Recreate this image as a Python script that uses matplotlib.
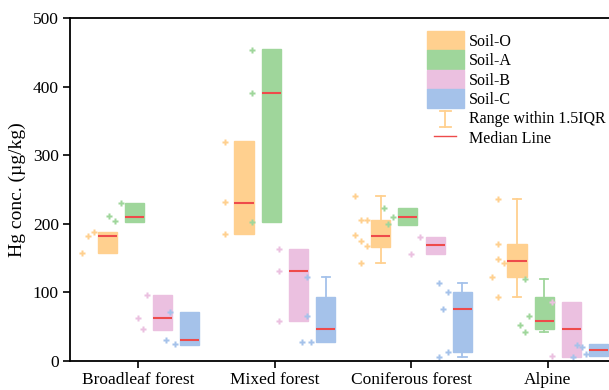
import matplotlib
matplotlib.use('Agg')
import matplotlib.pyplot as plt
import numpy as np
from matplotlib.patches import Patch
from matplotlib.lines import Line2D
from matplotlib.legend_handler import HandlerLine2D, HandlerBase

plt.rcParams['font.family'] = ['Liberation Serif', 'DejaVu Serif']

categories = ['Broadleaf forest', 'Mixed forest', 'Coniferous forest', 'Alpine']
soils = ['Soil-O', 'Soil-A', 'Soil-B', 'Soil-C']
colors = ['#FFD08F', '#9FD69B', '#EBC0E0', '#A5C2EA']
median_color = '#EE4B4B'

# sample points (ug/kg), one list per forest type
soil_o_pts = [[157, 182, 188], [185, 232, 319],
              [241, 205, 205, 183, 175, 167, 143], [123, 149, 143, 236, 171, 94]]
soil_a_pts = [[211, 204, 231], [203, 391, 454], [223, 210, 199], [120, 53, 65, 43]]
soil_b_pts = [[63, 46, 96], [59, 131, 163], [156, 181], [86, 7]]
soil_c_pts = [[30, 72, 25], [27, 65, 27, 122], [113, 101, 76, 6, 13], [6, 24, 21, 10]]
points = [soil_o_pts, soil_a_pts, soil_b_pts, soil_c_pts]

# box statistics, rows = soil layer, columns = forest type
box_q1 = [[158, 185, 166, 122], [203, 203, 198, 47], [45, 59, 156, 6], [24, 27, 13, 7]]
box_med = [[182, 231, 182, 146], [210, 391, 210, 59], [63, 131, 169, 46], [30, 47, 76, 16]]
box_q3 = [[188, 320, 205, 170], [231, 455, 223, 93], [96, 163, 181, 86], [72, 94, 101, 25]]
whis_lo = [[158, 185, 143, 94], [203, 203, 198, 43], [45, 59, 156, 6], [24, 27, 6, 7]]
whis_hi = [[188, 320, 241, 236], [231, 455, 223, 120], [96, 163, 181, 86], [72, 122, 113, 25]]


class ShortLine(HandlerLine2D):
    def get_xdata(self, legend, xdescent, ydescent, width, height, fontsize):
        c = width / 2 - xdescent
        return np.array([c - width * 0.3, c + width * 0.3]), np.array([c])


class RangeBar(HandlerBase):
    # I-shaped whisker symbol for the legend
    def create_artists(self, legend, orig_handle, xdescent, ydescent,
                       width, height, fontsize, trans):
        cx = width / 2 - xdescent
        y0 = -ydescent + 0.5
        y1 = height - ydescent - 1.5
        hw = 0.14 * width
        kw = dict(color=orig_handle.get_color(), lw=orig_handle.get_linewidth(),
                  transform=trans)
        return [Line2D([cx, cx], [y0, y1], **kw),
                Line2D([cx - hw, cx + hw], [y0, y0], **kw),
                Line2D([cx - hw, cx + hw], [y1, y1], **kw)]


fig = plt.figure(figsize=(6.09, 3.9), dpi=100)
ax = fig.add_axes([70 / 609, 1 - 361 / 390, (616 - 70) / 609, (361 - 18) / 390])

xc = np.arange(1, len(categories) + 1)
for j, c in enumerate(colors):
    pos = xc + (j - 1.5) * 0.2 + 0.075
    stats = [dict(q1=box_q1[j][i], med=box_med[j][i], q3=box_q3[j][i],
                  whislo=whis_lo[j][i], whishi=whis_hi[j][i], fliers=[])
             for i in range(len(categories))]
    bp = ax.bxp(stats, positions=pos, widths=0.14, capwidths=0.06, patch_artist=True,
                showfliers=False, manage_ticks=False,
                boxprops=dict(facecolor=c, edgecolor=c, lw=1),
                whiskerprops=dict(color=c, lw=1.3),
                capprops=dict(color=c, lw=1.3),
                medianprops=dict(color=median_color, lw=1.5))
    # no whisker drawn when it ends at the box edge
    for i, st in enumerate(stats):
        if st['whislo'] >= st['q1']:
            bp['caps'][2 * i].set_visible(False)
        if st['whishi'] <= st['q3']:
            bp['caps'][2 * i + 1].set_visible(False)
    # data points to the left of each box, spread out when they share a 50-unit bin
    for i, vals in enumerate(points[j]):
        vals = np.array(vals, dtype=float)
        bins = vals // 50
        xs = np.empty(len(vals))
        for b in np.unique(bins):
            idx = np.where(bins == b)[0]
            k = len(idx)
            xs[idx] = pos[i] - 0.142 + ((np.arange(k) + 0.5) / k - 0.5) * 0.132
        ax.plot(xs, vals, ls='none', marker='P', ms=4.6, color=c, mec='none')

ax.set_xlim(0.5, 4.5)
ax.set_ylim(0, 500)
ax.set_xticks(xc, categories)
ax.set_yticks(range(0, 501, 100))
ax.tick_params(direction='out', length=5, width=1.2, labelsize=12.5, pad=3)
for s in ax.spines.values():
    s.set_linewidth(1.3)
ax.set_ylabel('Hg conc. (µg/kg)', fontsize=14, labelpad=5)

handles = [Patch(facecolor=c, edgecolor=c) for c in colors]
range_proxy = Line2D([], [], color=colors[0], lw=1.3)
med_line = Line2D([], [], color=median_color, lw=1)
handles += [range_proxy, med_line]
labels = soils + ['Range within 1.5IQR', 'Median Line']
fig.legend(handles, labels, loc='upper left', bbox_to_anchor=(427 / 609, 1 - 31 / 390),
           frameon=False, fontsize=11.5, handlelength=2.3, handleheight=1.42,
           handletextpad=0.3, labelspacing=0.05, borderpad=0, borderaxespad=0,
           handler_map={range_proxy: RangeBar(), med_line: ShortLine()})

fig.savefig('out.png', dpi=100)
